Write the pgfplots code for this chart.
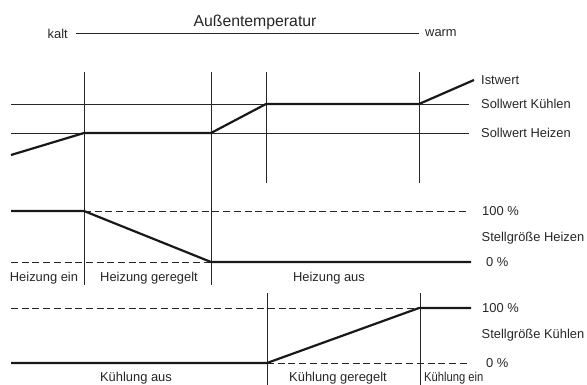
\documentclass[border=0pt]{standalone}
\usepackage{fontspec}
\setmainfont{Liberation Sans}
\usepackage{pgfplots}
\pgfplotsset{compat=1.18}
\tikzset{
  tline/.style={black!85, line width=0.75pt},
  kline/.style={black!90, line width=2.2pt},
  dline/.style={black!85, line width=0.75pt, dash pattern=on 7pt off 3.7pt},
  lab/.style={font=\fontsize{12.9}{14}\selectfont, inner sep=0pt, text=black!85},
}
\begin{document}
\begin{tikzpicture}
\begin{axis}[
  scale only axis, width=587pt, height=385pt,
  xmin=0, xmax=587, ymin=0, ymax=385, y dir=reverse,
  hide axis, clip=false,
  every axis plot/.append style={no marks},
]
% Außentemperatur scale
\addplot[tline] coordinates {(76,33.5) (419,33.5)};
% --- top panel: setpoints and actual value
\addplot[tline] coordinates {(11,104) (469,104)};
\addplot[tline] coordinates {(11,133) (469,133)};
\addplot[tline] coordinates {(84,72) (84,285)};
\addplot[tline] coordinates {(211,72) (211,285)};
\addplot[tline] coordinates {(266,72) (266,183)};
\addplot[tline] coordinates {(419,72) (419,183)};
\addplot[kline] coordinates {(11,155) (84,133) (211,133) (266,104) (419,104) (474,80)};
% --- middle panel: Stellgröße Heizen
\addplot[dline] coordinates {(84,211) (469,211)};
\addplot[dline] coordinates {(11,262) (211,262)};
\addplot[kline] coordinates {(11,211) (84,211) (211,262) (471,262)};
% --- bottom panel: Stellgröße Kühlen
\addplot[dline] coordinates {(11,308) (419,308)};
\addplot[dline] coordinates {(267,363) (469,363)};
\addplot[tline] coordinates {(267,293) (267,385)};
\addplot[tline] coordinates {(420,293) (420,385)};
\addplot[kline] coordinates {(11,363) (267,363) (419,308) (471,308)};
% texts
\node[font=\fontsize{15.8}{17}\selectfont, inner sep=0pt, text=black!85] at (axis cs:255,22) {Außentemperatur};
\node[lab, anchor=east] at (axis cs:68,33.5) {kalt};
\node[lab, anchor=west] at (axis cs:425,33.5) {warm};
\node[lab, anchor=west] at (axis cs:481,80) {Istwert};
\node[lab, anchor=west] at (axis cs:481,104) {Sollwert Kühlen};
\node[lab, anchor=west] at (axis cs:481,133) {Sollwert Heizen};
\node[lab, anchor=west] at (axis cs:482,211) {100 \%};
\node[lab, anchor=west] at (axis cs:481.5,238) {Stellgröße Heizen};
\node[lab, anchor=west] at (axis cs:486,262) {0 \%};
\node[lab] at (axis cs:44,278) {Heizung ein};
\node[lab] at (axis cs:149,278) {Heizung geregelt};
\node[lab] at (axis cs:329,278) {Heizung aus};
\node[lab, anchor=west] at (axis cs:482,308) {100 \%};
\node[lab, anchor=west] at (axis cs:481.5,335) {Stellgröße Kühlen};
\node[lab, anchor=west] at (axis cs:486,363) {0 \%};
\node[lab] at (axis cs:136,378) {Kühlung aus};
\node[lab] at (axis cs:338,378) {Kühlung geregelt};
\node[lab, xscale=0.87, anchor=west] at (axis cs:424,378) {Kühlung ein};
\end{axis}
\pgfresetboundingbox
\path (current axis.south west) rectangle (current axis.north east);
\end{tikzpicture}
\end{document}
